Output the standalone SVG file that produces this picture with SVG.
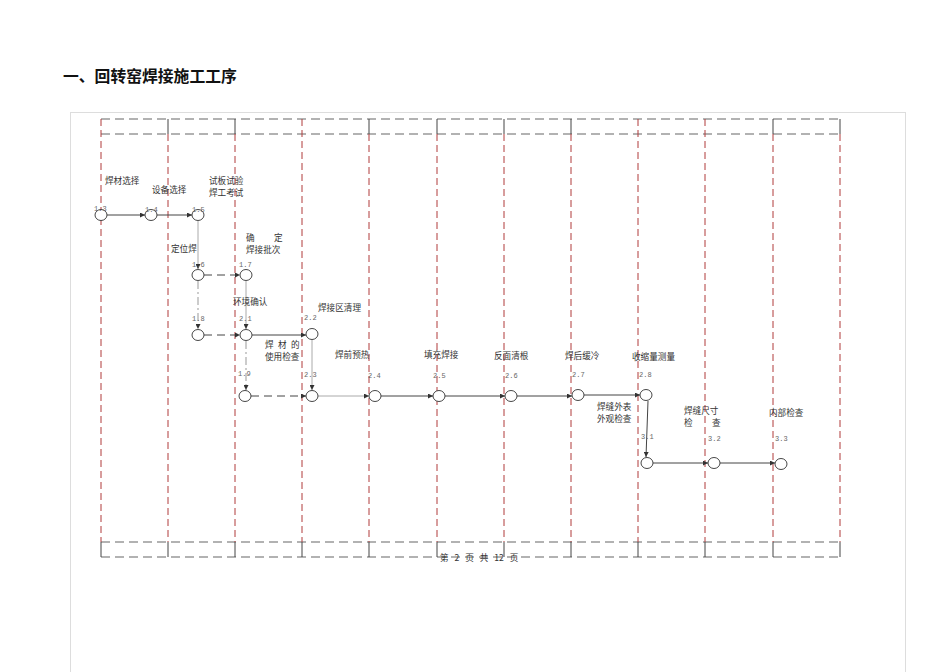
<svg xmlns="http://www.w3.org/2000/svg" width="950" height="672" viewBox="0 0 950 672">
<style>
.t{font-family:"Noto Sans CJK SC","Liberation Serif",serif;font-size:8.6px;fill:#333}
.n{font-family:"Liberation Mono",monospace;font-size:7px;fill:#666}
.col{stroke:#b03a3a;stroke-width:1;stroke-dasharray:7,4;fill:none}
.hd{stroke:#666;stroke-width:1.1;stroke-dasharray:9,5;fill:none}
.tk{stroke:#444;stroke-width:1;fill:none}
.nd{fill:#fff;stroke:#333;stroke-width:0.9}
.s{stroke:#444;stroke-width:1;fill:none}
.g{stroke:#aaa;stroke-width:1;fill:none}
.d{stroke:#444;stroke-width:1;stroke-dasharray:8,5;fill:none}
.gd{stroke:#999;stroke-width:1;stroke-dasharray:8,3,2,3;fill:none}
</style>
<defs>
<marker id="a" viewBox="0 0 6 6" refX="6" refY="3" markerWidth="5" markerHeight="5" orient="auto"><path d="M0,0L6,3L0,6z" fill="#333"/></marker>
</defs>
<rect width="950" height="672" fill="#fff"/>
<rect x="70.5" y="112.5" width="835" height="580" fill="none" stroke="#ddd"/>
<text x="63" y="82" font-family="'Noto Sans CJK SC','Liberation Sans',sans-serif" font-size="15.8" font-weight="bold" fill="#111">一、回转窑焊接施工工序</text>
<g id="grid">
<path class="hd" d="M101,119H840M101,134H840M101,542H840M101,557H840"/>
<path class="col" d="M101,119V542M168,134V542M235,134V542M302,119V542M369,134V542M437,134V542M504,134V542M571,134V542M638,119V542M705,119V542M773,134V542M840,134V542"/>
<path class="tk" d="M168,119V134M235,119V134M369,119V134M437,119V134M504,119V134M571,119V134M773,119V134M840,119V134M101,542V557M168,542V557M235,542V557M302,542V557M369,542V557M437,542V557M504,542V557M571,542V557M638,542V557M705,542V557M773,542V557M840,542V557"/>
</g>
<g id="connectors">
<path class="s" d="M107,215H145" marker-end="url(#a)"/>
<path class="s" d="M157,215H192" marker-end="url(#a)"/>
<path class="g" d="M198,221V269" marker-end="url(#a)"/>
<path class="d" d="M204,275H240" marker-end="url(#a)"/>
<path class="gd" d="M198,281V329" marker-end="url(#a)"/>
<path class="g" d="M246,281V329" marker-end="url(#a)"/>
<path class="d" d="M204,335H240" marker-end="url(#a)"/>
<path class="s" d="M252,335H306" marker-end="url(#a)"/>
<path class="gd" d="M246,341V390" marker-end="url(#a)"/>
<path class="g" d="M312,340V390" marker-end="url(#a)"/>
<path class="d" d="M251,396H306" marker-end="url(#a)"/>
<path class="g" d="M318,396H369" marker-end="url(#a)"/>
<path class="s" d="M381,396H433" marker-end="url(#a)"/>
<path class="s" d="M445,396H505" marker-end="url(#a)"/>
<path class="s" d="M517,396H572" marker-end="url(#a)"/>
<path class="s" d="M584,395H640" marker-end="url(#a)"/>
<path class="s" d="M648,401L646,457" marker-end="url(#a)"/>
<path class="s" d="M653,463H708" marker-end="url(#a)"/>
<path class="s" d="M720,463H775" marker-end="url(#a)"/>
</g>
<g id="n13"><ellipse class="nd" cx="101" cy="215" rx="6" ry="5.5"/><text class="n" x="94" y="211">1.3</text></g>
<g id="n14"><ellipse class="nd" cx="151" cy="215" rx="6" ry="5.5"/><text class="n" x="145" y="212">1.4</text></g>
<g id="n15"><ellipse class="nd" cx="198" cy="215" rx="6" ry="5.5"/><text class="n" x="192" y="212">1.5</text></g>
<g id="n16"><ellipse class="nd" cx="198" cy="275" rx="6" ry="5.5"/><text class="n" x="192" y="267">1.6</text></g>
<g id="n17"><ellipse class="nd" cx="246" cy="275" rx="6" ry="5.5"/><text class="n" x="239" y="267">1.7</text></g>
<g id="n18"><ellipse class="nd" cx="198" cy="335" rx="6" ry="5.5"/><text class="n" x="192" y="321">1.8</text></g>
<g id="n21"><ellipse class="nd" cx="246" cy="335" rx="6" ry="5.5"/><text class="n" x="239" y="321">2.1</text></g>
<g id="n22"><ellipse class="nd" cx="312" cy="334" rx="6" ry="5.5"/><text class="n" x="304" y="320">2.2</text></g>
<g id="n19"><ellipse class="nd" cx="245" cy="396" rx="6" ry="5.5"/><text class="n" x="238" y="376">1.9</text></g>
<g id="n23"><ellipse class="nd" cx="312" cy="396" rx="6" ry="5.5"/><text class="n" x="304" y="377">2.3</text></g>
<g id="n24"><ellipse class="nd" cx="375" cy="396" rx="6" ry="5.5"/><text class="n" x="368" y="378">2.4</text></g>
<g id="n25"><ellipse class="nd" cx="439" cy="396" rx="6" ry="5.5"/><text class="n" x="433" y="378">2.5</text></g>
<g id="n26"><ellipse class="nd" cx="511" cy="396" rx="6" ry="5.5"/><text class="n" x="505" y="378">2.6</text></g>
<g id="n27"><ellipse class="nd" cx="578" cy="395" rx="6" ry="5.5"/><text class="n" x="572" y="377">2.7</text></g>
<g id="n28"><ellipse class="nd" cx="646" cy="395" rx="6" ry="5.5"/><text class="n" x="639" y="377">2.8</text></g>
<g id="n31"><ellipse class="nd" cx="647" cy="463" rx="6" ry="5.5"/><text class="n" x="641" y="439">3.1</text></g>
<g id="n32"><ellipse class="nd" cx="714" cy="463" rx="6" ry="5.5"/><text class="n" x="708" y="441">3.2</text></g>
<g id="n33"><ellipse class="nd" cx="781" cy="464" rx="6" ry="5.5"/><text class="n" x="775" y="441">3.3</text></g>
<g id="labels">
<text class="t" x="105" y="184">焊材选择</text>
<text class="t" x="152" y="193">设备选择</text>
<text class="t" x="209" y="184">试板试验</text>
<text class="t" x="209" y="196">焊工考试</text>
<text class="t" x="171" y="252">定位焊</text>
<text class="t" x="246" y="241">确<tspan x="274">定</tspan></text>
<text class="t" x="246" y="253">焊接批次</text>
<text class="t" x="233" y="305">环境确认</text>
<text class="t" x="318" y="311">焊接区清理</text>
<text class="t" x="265" y="348">焊<tspan x="278">材</tspan><tspan x="291">的</tspan></text>
<text class="t" x="265" y="360">使用检查</text>
<text class="t" x="335" y="358">焊前预热</text>
<text class="t" x="424" y="358">填充焊接</text>
<text class="t" x="494" y="359">反面清根</text>
<text class="t" x="565" y="359">焊后缓冷</text>
<text class="t" x="632" y="360">收缩量测量</text>
<text class="t" x="597" y="410">焊缝外表</text>
<text class="t" x="597" y="422">外观检查</text>
<text class="t" x="684" y="414">焊缝尺寸</text>
<text class="t" x="684" y="426">检<tspan x="712">查</tspan></text>
<text class="t" x="769" y="416">内部检查</text>
<text class="t" x="440" y="561" word-spacing="4">第 2 页 共 12 页</text>
</g>
</svg>
